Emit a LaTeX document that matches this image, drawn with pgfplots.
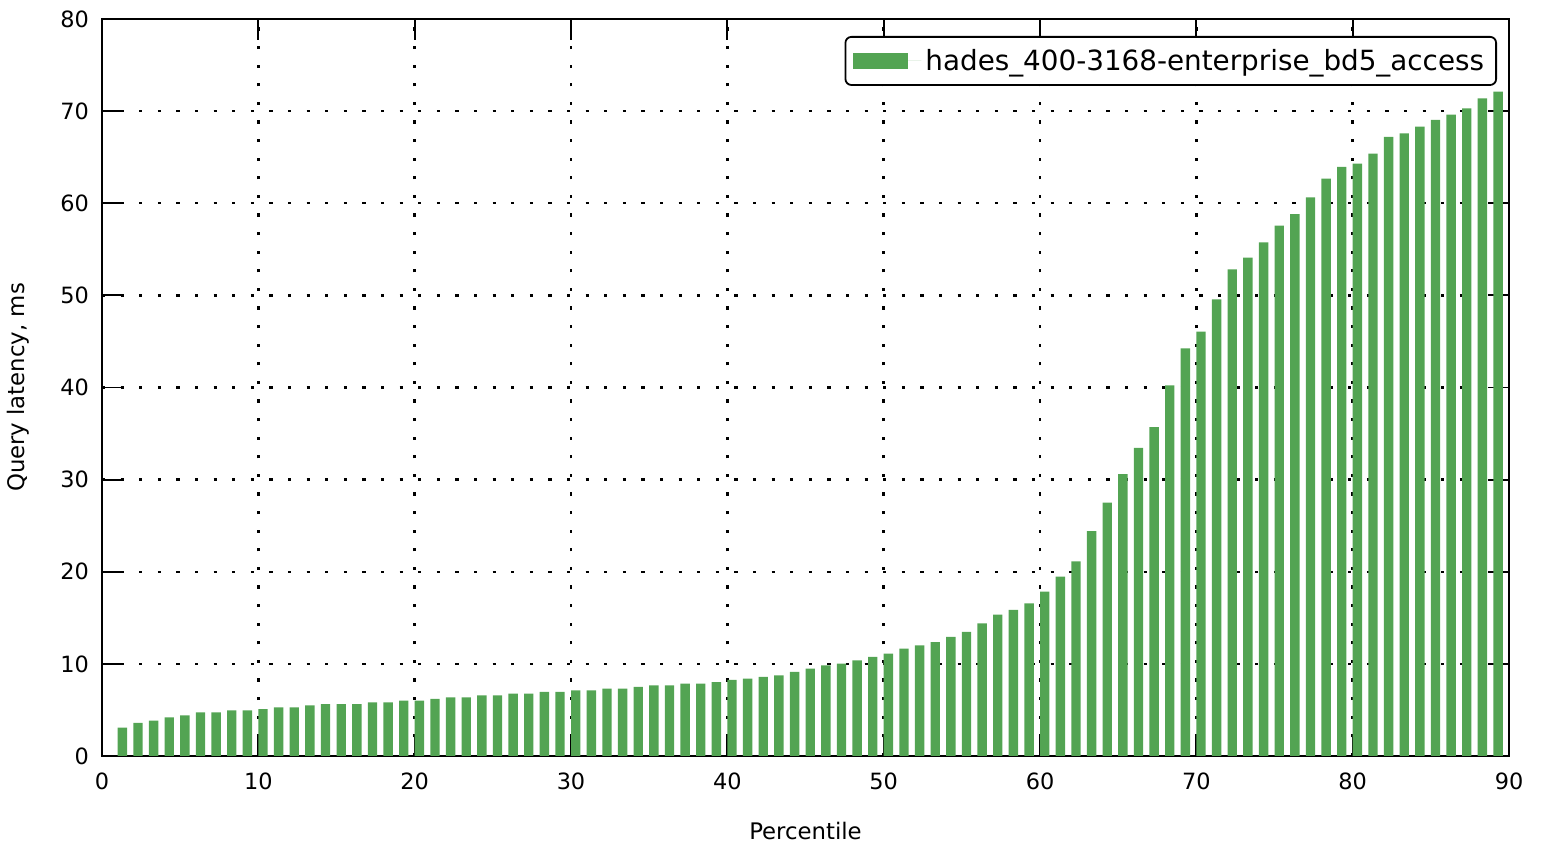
\documentclass[border=0pt]{standalone}
\usepackage{fontspec}
\setmainfont{DejaVu Sans}
\usepackage{pgfplots}
\pgfplotsset{compat=1.18}
\definecolor{bargreen}{RGB}{83,164,83}

\begin{document}
\begin{tikzpicture}
  \begin{axis}[
      name=ax,
      width=703.5pt, height=368.5pt, scale only axis,
      xmin=0, xmax=90, ymin=0, ymax=80,
      xtick={0,10,...,90}, ytick={0,10,...,80},
      tick align=inside, major tick length=10.5pt,
      tick style={black, line width=0.9pt},
      axis line style={black, line width=1pt},
      grid=major,
      major grid style={black, line width=1.2pt, dash pattern=on 1.6pt off 7.7pt},
      /pgf/number format/assume math mode=true,
      ticklabel style={font=\fontsize{11.2}{13.4}\selectfont},
      xticklabel style={yshift=-5pt},
      yticklabel style={xshift=-3pt},
      xlabel={Percentile}, ylabel={Query latency, ms},
      every axis x label/.style={at={([yshift=-37.5pt]axis description cs:0.5,0)}, anchor=center,
        font=\fontsize{11.4}{13.4}\selectfont},
      every axis y label/.style={at={([xshift=-42pt]axis description cs:0,0.5)}, anchor=center, rotate=90,
        font=\fontsize{11.4}{13.4}\selectfont},
      legend style={at={(1,1)}, anchor=north east, xshift=-6pt, yshift=-8.5pt,
        draw=black, line width=0.9pt, rounded corners=3pt,
        font=\fontsize{13.9}{16}\selectfont, inner xsep=4pt, inner ysep=4pt},
      legend image code/.code={
        \fill[bargreen, sharp corners] (0pt,-4pt) rectangle (27.5pt,4pt);
        \path (0pt,0pt) -- (34pt,0pt);},
      legend cell align=left,
    ]
    \addplot[ybar, bar width=0.6, bar shift=0.3, fill=bargreen, draw=none] coordinates {
      (1,3.07)(2,3.60)(3,3.83)(4,4.20)(5,4.40)(6,4.74)(7,4.74)(8,4.96)(9,4.96)(10,5.10)
      (11,5.28)(12,5.28)(13,5.50)(14,5.64)(15,5.64)(16,5.64)(17,5.83)(18,5.83)(19,6.00)(20,6.00)
      (21,6.19)(22,6.37)(23,6.37)(24,6.59)(25,6.59)(26,6.77)(27,6.77)(28,6.95)(29,6.95)(30,7.13)
      (31,7.13)(32,7.31)(33,7.31)(34,7.49)(35,7.67)(36,7.67)(37,7.85)(38,7.85)(39,8.03)(40,8.25)
      (41,8.40)(42,8.58)(43,8.76)(44,9.12)(45,9.48)(46,9.84)(47,10.02)(48,10.38)(49,10.75)(50,11.11)
      (51,11.65)(52,12.00)(53,12.37)(54,12.92)(55,13.46)(56,14.40)(57,15.34)(58,15.85)(59,16.57)(60,17.84)
      (61,19.47)(62,21.13)(63,24.42)(64,27.50)(65,30.60)(66,33.44)(67,35.71)(68,40.24)(69,44.25)(70,46.06)
      (71,49.57)(72,52.83)(73,54.10)(74,55.76)(75,57.57)(76,58.83)(77,60.64)(78,62.67)(79,63.94)(80,64.30)
      (81,65.38)(82,67.19)(83,67.58)(84,68.31)(85,69.04)(86,69.62)(87,70.30)(88,71.39)(89,72.11)};
    \addlegendentry{hades\_400-3168-enterprise\_bd5\_access}
  \end{axis}
  \pgfresetboundingbox
  \path ([shift={(-51pt,-45pt)}]ax.south west) rectangle ([shift={(16pt,9.5pt)}]ax.north east);
\end{tikzpicture}
\end{document}
